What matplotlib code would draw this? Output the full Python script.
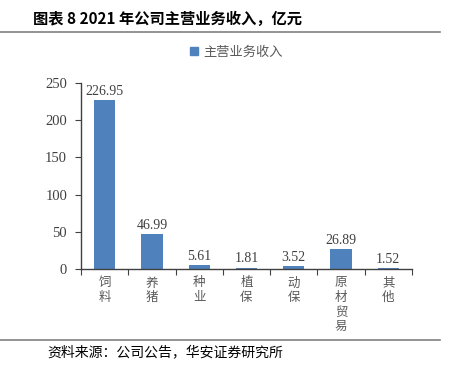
import matplotlib
matplotlib.use("Agg")
import matplotlib.pyplot as plt
from matplotlib.lines import Line2D
import matplotlib.patches as mpatches

categories = ["饲料", "养猪", "种业", "植保", "动保", "原材贸易", "其他"]
revenue = [226.95, 46.99, 5.61, 1.81, 3.52, 26.89, 1.52]
y_ticks = [0, 50, 100, 150, 200, 250]

CJK = ["Noto Sans CJK SC", "DejaVu Sans"]
SERIF = "Liberation Serif"
BAR_COLOR = "#4F81BD"

fig = plt.figure(figsize=(4.49, 3.68), dpi=100, facecolor="white")
W, H = 449, 368

# header / footer
fig.text(33 / W, 1 - 19 / H, "图表 8 2021 年公司主营业务收入，亿元", family=CJK,
         fontsize=11, fontweight="bold", color="black", va="center", ha="left")
fig.add_artist(Line2D([0, 440 / W], [1 - 32 / H] * 2, color="#808080", lw=1.2))
fig.add_artist(Line2D([0, 440 / W], [1 - 340 / H] * 2, color="#808080", lw=1.2))
fig.text(47 / W, 1 - 352 / H, "资料来源：公司公告，华安证券研究所", family=CJK,
         fontsize=10, color="black", va="center", ha="left")

ax = fig.add_axes([81 / W, 1 - 269 / H, (412 - 81) / W, (269 - 83) / H])
x = range(len(categories))
ax.bar(x, revenue, width=0.45, color=BAR_COLOR, zorder=2)

for xi, v in zip(x, revenue):
    ax.text(xi, v + 3, f"{v:.2f}", ha="center", va="bottom", family=SERIF,
            fontsize=10, color="#404040")

ax.set_xlim(-0.5, len(categories) - 0.5)
ax.set_ylim(0, 250)
ax.set_yticks(y_ticks)
ax.set_yticklabels([str(t) for t in y_ticks], family=SERIF, fontsize=10.5,
                   color="#404040")

ax.set_xticks([i + 0.5 for i in range(-1, len(categories))])
ax.set_xticklabels([])
ax.tick_params(axis="x", direction="out", length=4, color="#404040")
ax.tick_params(axis="y", direction="out", length=4, color="#404040", pad=6)
for i, c in enumerate(categories):
    ax.text(i, -10, "\n".join(c), ha="center", va="top", family=CJK,
            fontsize=9, color="#595959", linespacing=1.15)

for s in ["top", "right"]:
    ax.spines[s].set_visible(False)
for s in ["left", "bottom"]:
    ax.spines[s].set_color("#404040")
    ax.spines[s].set_linewidth(1)

handle = mpatches.Patch(color=BAR_COLOR, label="主营业务收入")
fig.legend(handles=[handle], loc="center", bbox_to_anchor=(236 / W, 1 - 52 / H),
           frameon=False, prop={"family": CJK, "size": 9.5},
           handlelength=0.6, handleheight=0.6, handletextpad=0.4,
           labelcolor="#595959")

fig.savefig("out.png", dpi=100, facecolor="white")
